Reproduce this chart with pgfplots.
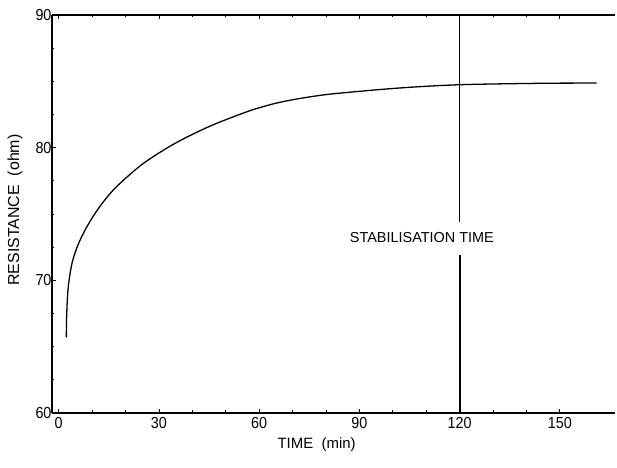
\documentclass[border=0pt]{standalone}
\usepackage{fontspec}
\setmainfont{Liberation Sans}
\newfontfamily\tickfont[FakeStretch=0.9]{Liberation Sans}
\usepackage{pgfplots}
\pgfplotsset{compat=1.18}
\begin{document}
\begin{tikzpicture}
\begin{axis}[
  scale only axis,
  width=563bp, height=398bp,
  xmin=-2, xmax=166.5,
  ymin=60, ymax=90,
  axis x line=box, axis y line=left,
  y axis line style={-, line width=1.4pt},
  x axis line style={-, line width=1.1pt},
  xtick={0,30,60,90,120,150},
  ytick={60,70,80,90},
  minor x tick num=2,
  minor y tick num=3,
  major tick length=4bp, minor tick length=2.5bp,
  tick style={black, line width=0.8pt},
  tick align=inside,
  /pgf/number format/assume math mode=true,
  ticklabel style={font=\tickfont\fontsize{16}{18}\selectfont},
  yticklabel style={xshift=3bp},
  xticklabel style={yshift=-1bp},
  xlabel={TIME\ \ (min)},
  xlabel style={font=\fontsize{15}{17}\selectfont, at={(rel axis cs:0.47,0)}, anchor=center, yshift=-32bp},
  ylabel={RESISTANCE\ \ (ohm)},
  ylabel style={font=\fontsize{16}{18}\selectfont, at={(rel axis cs:0,0.51)}, anchor=center, rotate=0, xshift=0bp, yshift=37bp},
  clip=false,
]
\addplot[black, line width=1.3pt, smooth, tension=0.5] coordinates {
  (2.3,65.7) (2.35,67.0) (2.6,68.6) (3.0,69.8) (4.0,71.3) (5.5,72.5) (7.5,73.6)
  (10,74.7) (13,75.8) (16.5,76.85) (20.5,77.8) (25,78.75) (30,79.6) (35,80.35)
  (40,81.0) (46,81.7) (52,82.3) (58,82.85) (65,83.35) (72,83.7) (80,84.0)
  (88,84.2) (96,84.38) (105,84.55) (114,84.68) (122,84.76) (135,84.82)
  (148,84.86) (161,84.87)
};
\addplot[black, line width=0.9pt] coordinates {(120,90) (120,74.4)};
\addplot[black, line width=1.8pt] coordinates {(120,71.9) (120,60)};
\addplot[black, line width=2.6pt] coordinates {(150.5,60) (166.5,60)};
\node[font=\fontsize{14.5}{16}\selectfont, anchor=center] at (axis cs:108.7,73.2) {STABILISATION\ TIME};
\coordinate (sw) at (rel axis cs:0,0);
\coordinate (ne) at (rel axis cs:1,1);
\end{axis}
\pgfresetboundingbox
\path ([shift={(-52bp,-55bp)}]sw) rectangle ([shift={(2bp,15bp)}]ne);
\end{tikzpicture}
\end{document}
